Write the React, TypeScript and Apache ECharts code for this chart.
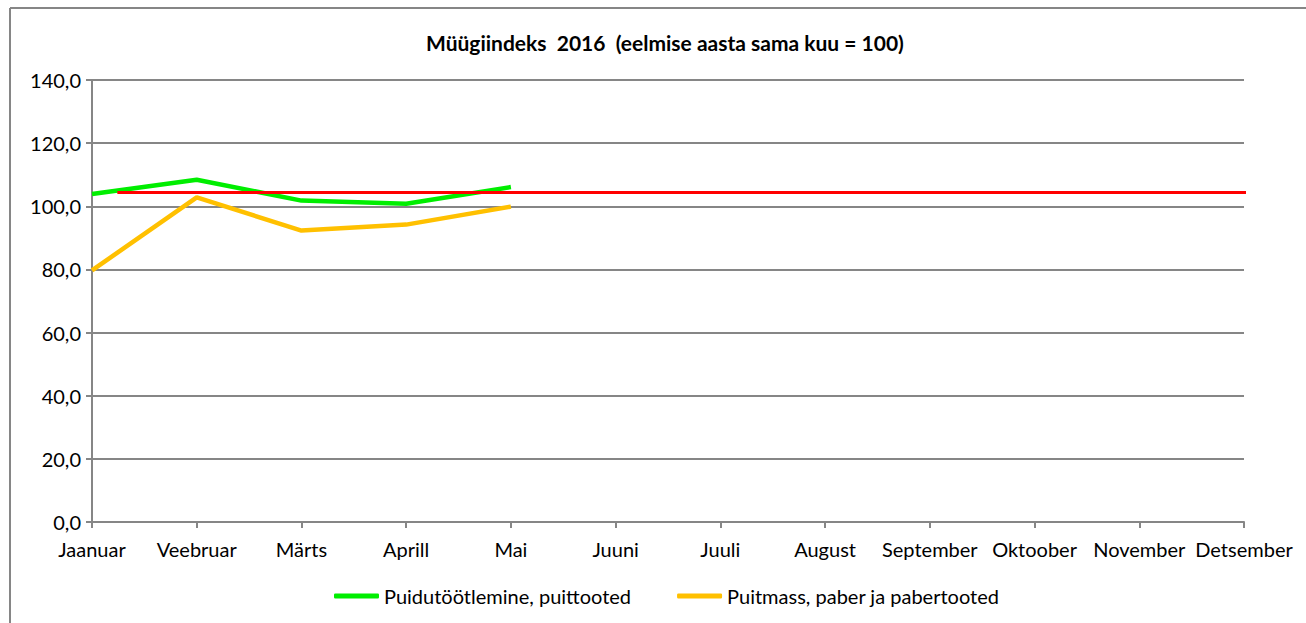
import React, { useEffect, useRef } from "react";
import * as echarts from "echarts";

const months = [
  "Jaanuar", "Veebruar", "Märts", "Aprill", "Mai", "Juuni",
  "Juuli", "August", "September", "Oktoober", "November", "Detsember",
];
const seriesWood = [103.9, 108.4, 101.8, 100.8, 106.1];
const seriesPaper = [79.7, 102.8, 92.3, 94.2, 99.9];
const refLevel = 104.4;
const refStart = 0.242;
const refEnd = 11.095;
const yTicks = { min: 0, max: 140, interval: 20 };

const FONT = "Lato";

export default function App() {
  const ref = useRef<HTMLDivElement>(null);
  useEffect(() => {
    document.body.style.margin = "0";
    document.body.style.overflow = "hidden";
    const chart = echarts.init(ref.current!, null, { renderer: "svg" });
    const gray = "#868686";
    chart.setOption({
      animation: false,
      backgroundColor: "#ffffff",
      textStyle: { fontFamily: FONT },
      title: {
        text: "Müügiindeks  2016  (eelmise aasta sama kuu = 100)",
        left: 421,
        top: 27,
        textStyle: { fontFamily: FONT, fontSize: 21, fontWeight: "bold", color: "#000" },
      },
      graphic: [
        {
          type: "line",
          shape: { x1: 10, y1: 8, x2: 1306, y2: 8 },
          style: { stroke: gray, lineWidth: 2 },
          silent: true,
        },
        {
          type: "line",
          shape: { x1: 10, y1: 8, x2: 10, y2: 623 },
          style: { stroke: gray, lineWidth: 2 },
          silent: true,
        },
      ],
      legend: {
        data: [
          { name: "Puidutöötlemine, puittooted" },
          { name: "Puitmass, paber ja pabertooted" },
        ],
        left: 329,
        top: 581,
        icon: "roundRect",
        itemWidth: 45,
        itemHeight: 5,
        itemGap: 46,
        textStyle: { fontFamily: FONT, fontSize: 20, color: "#000" },
      },
      grid: { left: 92, right: 62, top: 80, bottom: 101, containLabel: false },
      xAxis: [
        {
          type: "category",
          data: months,
          boundaryGap: false,
          axisLine: { show: true, lineStyle: { color: gray, width: 2 } },
          axisTick: { show: true, length: 6, lineStyle: { color: gray, width: 2 } },
          axisLabel: { color: "#000", fontSize: 20, fontFamily: FONT, margin: 17, interval: 0 },
          splitLine: { show: false },
        },
        {
          type: "value",
          min: 0,
          max: 11,
          show: false,
        },
      ],
      yAxis: {
        type: "value",
        min: yTicks.min,
        max: yTicks.max,
        interval: yTicks.interval,
        axisLine: { show: true, lineStyle: { color: gray, width: 2 } },
        axisTick: { show: true, length: 6, lineStyle: { color: gray, width: 2 } },
        axisLabel: {
          color: "#000",
          fontSize: 20,
          fontFamily: FONT,
          margin: 11,
          formatter: (v: number) => v.toFixed(1).replace(".", ","),
        },
        splitLine: { show: true, lineStyle: { color: gray, width: 2 } },
      },
      series: [
        {
          name: "Puidutöötlemine, puittooted",
          type: "line",
          data: seriesWood,
          symbol: "none",
          color: "#00EE00",
          lineStyle: { color: "#00EE00", width: 4.5 },
          z: 3,
        },
        {
          name: "Puitmass, paber ja pabertooted",
          type: "line",
          data: seriesPaper,
          symbol: "none",
          color: "#FFC000",
          lineStyle: { color: "#FFC000", width: 4.5 },
          z: 3,
        },
        {
          name: "ref",
          type: "line",
          xAxisIndex: 1,
          data: [[refStart, refLevel], [refEnd, refLevel]],
          symbol: "none",
          clip: false,
          color: "#FF0000",
          lineStyle: { color: "#FF0000", width: 3 },
          z: 4,
        },
      ],
    });
    return () => chart.dispose();
  }, []);
  return <div ref={ref} style={{ width: 1306, height: 623 }} />;
}
